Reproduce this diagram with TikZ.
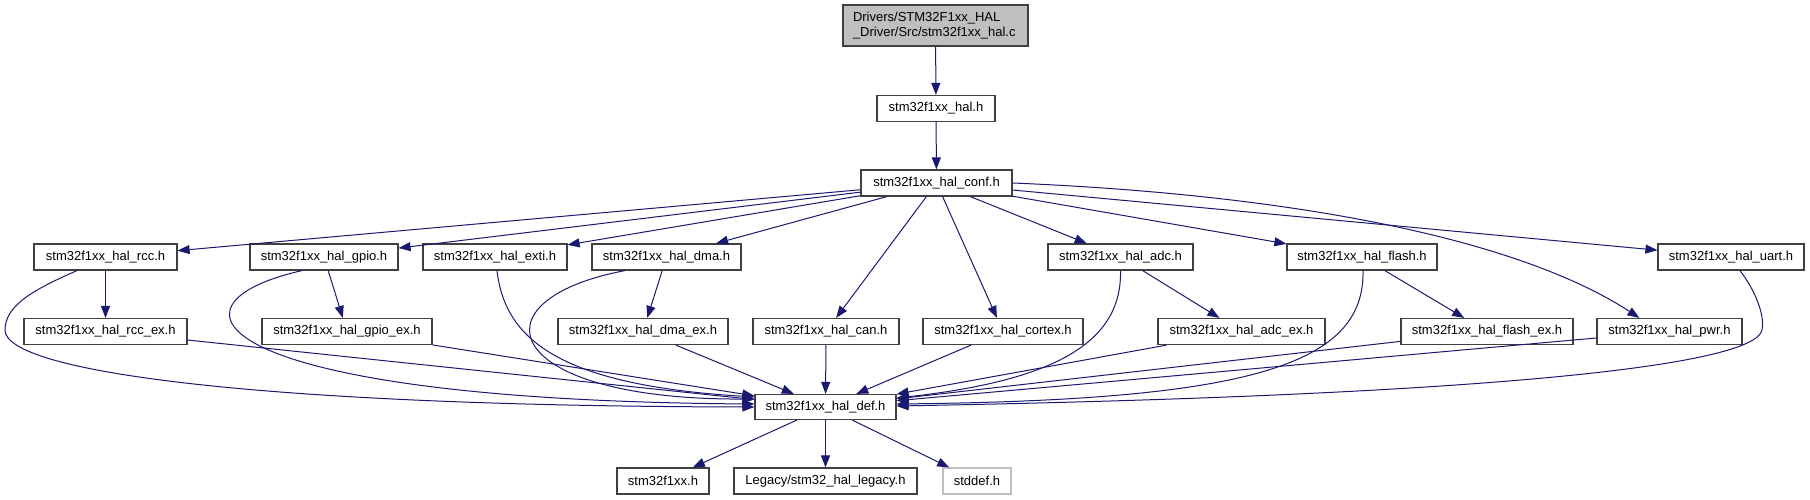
\documentclass[tikz,border=0pt]{standalone}
\usepackage{fontspec}
\setmainfont{Liberation Sans}
\usetikzlibrary{arrows.meta}
\definecolor{edgeblue}{HTML}{191970}
\definecolor{boxline}{HTML}{404040}
\definecolor{grayfill}{HTML}{BFBFBF}
\begin{document}
\begin{tikzpicture}[x=1pt,y=-1pt,
  box/.style={draw=boxline, line width=1.2pt, fill=white, minimum height=26pt, inner sep=0pt, font=\fontsize{13}{15}\selectfont},
  edge/.style={draw=edgeblue, line width=1pt, -{Triangle[length=12pt,width=9pt]}}]
\useasboundingbox (0,0) rectangle (1810,500);
% nodes
\node[box, fill=grayfill, minimum width=185pt, minimum height=41pt, text width=165pt, align=left] (top) at (935.5,25.5) {Drivers/STM32F1xx\_HAL\\\_Driver/Src/stm32f1xx\_hal.c};
\node[box, minimum width=118pt] (hal) at (936,108.5) {stm32f1xx\_hal.h};
\node[box, minimum width=151pt] (conf) at (936.5,183) {stm32f1xx\_hal\_conf.h};
% row 1
\node[box, minimum width=143pt] (rcc) at (105.5,257) {stm32f1xx\_hal\_rcc.h};
\node[box, minimum width=148pt] (gpio) at (324,257) {stm32f1xx\_hal\_gpio.h};
\node[box, minimum width=144pt] (exti) at (495,257) {stm32f1xx\_hal\_exti.h};
\node[box, minimum width=149pt] (dma) at (666.5,257) {stm32f1xx\_hal\_dma.h};
\node[box, minimum width=145pt] (adc) at (1120.5,257) {stm32f1xx\_hal\_adc.h};
\node[box, minimum width=150pt] (flash) at (1362,257) {stm32f1xx\_hal\_flash.h};
\node[box, minimum width=146pt] (uart) at (1731,257) {stm32f1xx\_hal\_uart.h};
% row 2
\node[box, minimum width=163pt] (rccex) at (105.5,331.5) {stm32f1xx\_hal\_rcc\_ex.h};
\node[box, minimum width=170pt] (gpioex) at (347,331.5) {stm32f1xx\_hal\_gpio\_ex.h};
\node[box, minimum width=170pt] (dmaex) at (643,331.5) {stm32f1xx\_hal\_dma\_ex.h};
\node[box, minimum width=146pt] (can) at (826,331.5) {stm32f1xx\_hal\_can.h};
\node[box, minimum width=160pt] (cortex) at (1003,331.5) {stm32f1xx\_hal\_cortex.h};
\node[box, minimum width=167pt] (adcex) at (1241.5,331.5) {stm32f1xx\_hal\_adc\_ex.h};
\node[box, minimum width=172pt] (flashex) at (1487,331.5) {stm32f1xx\_hal\_flash\_ex.h};
\node[box, minimum width=145pt] (pwr) at (1669.5,331.5) {stm32f1xx\_hal\_pwr.h};
% def
\node[box, minimum width=141pt, minimum height=25pt] (def) at (825.5,407) {stm32f1xx\_hal\_def.h};
% bottom
\node[box, minimum width=92pt] (f1xx) at (663,481) {stm32f1xx.h};
\node[box, minimum width=183pt] (legacy) at (825.5,481) {Legacy/stm32\_hal\_legacy.h};
\node[box, draw=grayfill, minimum width=68pt] (stddef) at (977,481) {stddef.h};
% edges
\draw[edge] (top) -- (hal);
\draw[edge] (hal) -- (conf);
\foreach \n in {rcc,gpio,exti,dma,can,cortex,adc,flash,uart} \draw[edge] (conf) -- (\n);
\draw[edge] (conf.east) .. controls (1300,195) and (1520,240) .. ([xshift=43pt]pwr.north west);
\draw[edge] (rcc) -- (rccex);
\draw[edge] (gpio) -- (gpioex);
\draw[edge] (dma) -- (dmaex);
\draw[edge] (adc) -- (adcex);
\draw[edge] (flash) -- (flashex);
% curves to def
\draw[edge] ([xshift=-28.5pt]rcc.south) .. controls (35,289) and (5,305) .. (5,330) .. controls (5,372) and (260,406) .. (def.west);
\draw[edge] ([xshift=-22pt]gpio.south) .. controls (150,305) and (210,400) .. ([yshift=3pt]def.west);
\draw[edge] ([xshift=2pt]exti.south) .. controls (505,340) and (560,385) .. ([yshift=10pt]def.west);
\draw[edge] ([xshift=-41.5pt]dma.south) .. controls (470,300) and (500,400) .. ([yshift=8pt]def.west);
\draw[edge] (adc.south) .. controls (1122,340) and (1060,380) .. ([yshift=9pt]def.east);
\draw[edge] ([xshift=1pt]flash.south) .. controls (1365,365) and (1250,400) .. ([yshift=3pt]def.east);
\draw[edge] ([xshift=9pt]uart.south) .. controls (1755,290) and (1765,315) .. (1762,330) .. controls (1755,365) and (1500,395) .. ([yshift=1pt]def.east);
% straight to def
\foreach \n in {rccex,gpioex,dmaex,can,cortex,adcex,flashex,pwr} \draw[edge] (\n) -- (def);
\draw[edge] (def) -- (f1xx);
\draw[edge] (def) -- (legacy);
\draw[edge] (def) -- (stddef);
\end{tikzpicture}
\end{document}
